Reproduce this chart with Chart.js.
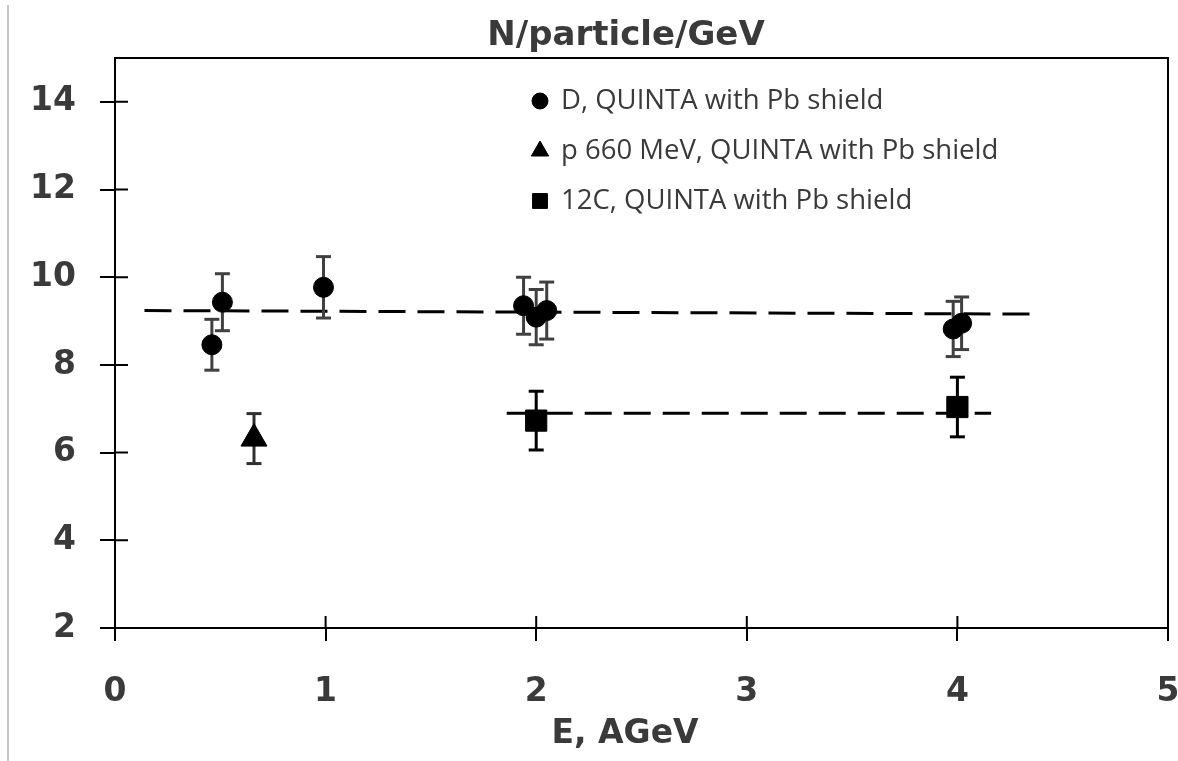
<!DOCTYPE html>
<html>
<head>
<meta charset="utf-8">
<title>N/particle/GeV</title>
<script src="https://cdn.jsdelivr.net/npm/chart.js@4/dist/chart.umd.min.js"></script>
<style>
  html, body { margin: 0; padding: 0; background: #fff; }
  #wrap { position: relative; width: 1178px; height: 761px; }
  #edge { position: absolute; left: 7px; top: 5px; width: 2px; height: 756px; background: #c8c8c8; }
  canvas { position: absolute; left: 0; top: 0; }
</style>
</head>
<body>
<div id="wrap">
  <div id="edge"></div>
  <canvas id="chart" width="1178" height="761"></canvas>
</div>
<script>
// N/particle/GeV vs E, AGeV - QUINTA with Pb shield

var dX   = [0.46, 0.51, 0.99, 1.94, 2.00, 2.05, 3.98, 4.02];
var dY   = [8.46, 9.43, 9.77, 9.35, 9.09, 9.24, 8.82, 8.95];
var dErr = [0.58, 0.65, 0.70, 0.65, 0.63, 0.65, 0.63, 0.60];

var pX   = [0.66];
var pY   = [6.32];
var pErr = [0.57];

var cX   = [2.00, 4.00];
var cY   = [6.73, 7.04];
var cErr = [0.67, 0.68];

var fitDX = [0.14, 4.35];
var fitDY = [9.24, 9.16];
var fitCX = [1.86, 4.16];
var fitCY = [6.90, 6.90];

var xTicks = [0, 1, 2, 3, 4, 5];
var yTicks = [2, 4, 6, 8, 10, 12, 14];

var LABELS = ['D, QUINTA with Pb shield', 'p 660 MeV, QUINTA with Pb shield', '12C, QUINTA with Pb shield'];
var TXT = '#3a3a3a';

function pts(xs, ys) {
  return xs.map(function(x, i) { return { x: x, y: ys[i] }; });
}

// error bars as line pieces with gaps, caps come from the 'line' point style
function errPts(xs, ys, es) {
  var out = [];
  xs.forEach(function(x, i) {
    out.push({ x: x, y: ys[i] - es[i] });
    out.push({ x: x, y: ys[i] + es[i] });
    out.push({ x: x, y: null });
  });
  return out;
}

function errSet(xs, ys, es, color) {
  return {
    data: errPts(xs, ys, es), showLine: true, spanGaps: false,
    borderColor: color, borderWidth: 3,
    pointStyle: 'line', pointRadius: 7.5, pointBorderColor: color, pointBorderWidth: 3,
    order: 1
  };
}

function markSet(xs, ys, style, r) {
  return {
    data: pts(xs, ys), showLine: false,
    pointStyle: style, pointRadius: r,
    pointBackgroundColor: '#000', pointBorderColor: '#000', pointBorderWidth: 1,
    order: 0
  };
}

function fitSet(xs, ys) {
  return {
    data: pts(xs, ys), showLine: true,
    borderColor: '#000', borderWidth: 3, borderDash: [27, 12],
    pointRadius: 0, order: 2
  };
}

var legendMarks = [
  { style: 'circle',   r: 8 },
  { style: 'triangle', r: 10 },
  { style: 'rect',     r: 10.5 }
];

var framePlugin = {
  id: 'frame',
  afterDraw: function(chart) {
    var ctx = chart.ctx;
    var a = chart.chartArea;
    var sx = chart.scales.x, sy = chart.scales.y;
    ctx.save();
    ctx.strokeStyle = '#000';
    ctx.lineWidth = 2;
    ctx.strokeRect(a.left, a.top, a.right - a.left, a.bottom - a.top);

    // inner half of the cross tick marks
    ctx.beginPath();
    yTicks.forEach(function(v) {
      var py = sy.getPixelForValue(v);
      ctx.moveTo(a.left, py); ctx.lineTo(a.left + 13, py);
    });
    xTicks.forEach(function(v) {
      var px = sx.getPixelForValue(v);
      ctx.moveTo(px, a.bottom); ctx.lineTo(px, a.bottom - 12);
    });
    ctx.stroke();

    // titles
    ctx.fillStyle = TXT;
    ctx.textAlign = 'center';
    ctx.textBaseline = 'alphabetic';
    ctx.font = 'bold 34px "DejaVu Sans"';
    ctx.fillText('N/particle/GeV', 626, 45);
    ctx.font = 'bold 33px "DejaVu Sans"';
    ctx.fillText('E, AGeV', 625, 743);

    // legend
    ctx.textAlign = 'left';
    ctx.textBaseline = 'middle';
    ctx.font = '27.5px "Open Sans"';
    LABELS.forEach(function(lab, i) {
      var y = 101 + i * 50;
      var m = legendMarks[i];
      ctx.fillStyle = '#000';
      ctx.strokeStyle = '#000';
      ctx.lineWidth = 1;
      Chart.helpers.drawPoint(ctx, { pointStyle: m.style, radius: m.r, rotation: 0, borderWidth: 1 }, 540, y);
      ctx.fillStyle = TXT;
      ctx.fillText(lab, 561, y);
    });
    ctx.restore();
  }
};

var tickFont = { family: '"DejaVu Sans"', size: 33, weight: 'bold' };

new Chart(document.getElementById('chart'), {
  type: 'scatter',
  data: {
    datasets: [
      markSet(dX, dY, 'circle', 10),
      markSet(pX, pY, 'triangle', 15),
      markSet(cX, cY, 'rect', 15),
      errSet(dX, dY, dErr, '#404040'),
      errSet(pX, pY, pErr, '#303030'),
      errSet(cX, cY, cErr, '#000'),
      fitSet(fitDX, fitDY),
      fitSet(fitCX, fitCY)
    ]
  },
  options: {
    responsive: false,
    animation: false,
    layout: { autoPadding: false, padding: { top: 58, right: 10, left: 0, bottom: 0 } },
    plugins: { legend: { display: false }, tooltip: { enabled: false }, title: { display: false } },
    scales: {
      x: {
        type: 'linear', min: 0, max: 5,
        afterFit: function(s) { s.height = 133; s.paddingLeft = 0; s.paddingRight = 0; },
        ticks: { stepSize: 1, color: TXT, font: tickFont, padding: 32, maxRotation: 0 },
        grid: { display: true, drawOnChartArea: false, tickLength: 13, color: '#000', lineWidth: 2 },
        border: { display: true, color: '#000', width: 2 }
      },
      y: {
        type: 'linear', min: 2, max: 15,
        afterFit: function(s) { s.width = 115; s.paddingTop = 0; s.paddingBottom = 0; },
        ticks: { stepSize: 2, includeBounds: false, color: TXT, font: tickFont, padding: 24 },
        grid: { display: true, drawOnChartArea: false, tickLength: 15, color: '#000', lineWidth: 2 },
        border: { display: true, color: '#000', width: 2 }
      }
    }
  },
  plugins: [framePlugin]
});
</script>
</body>
</html>
